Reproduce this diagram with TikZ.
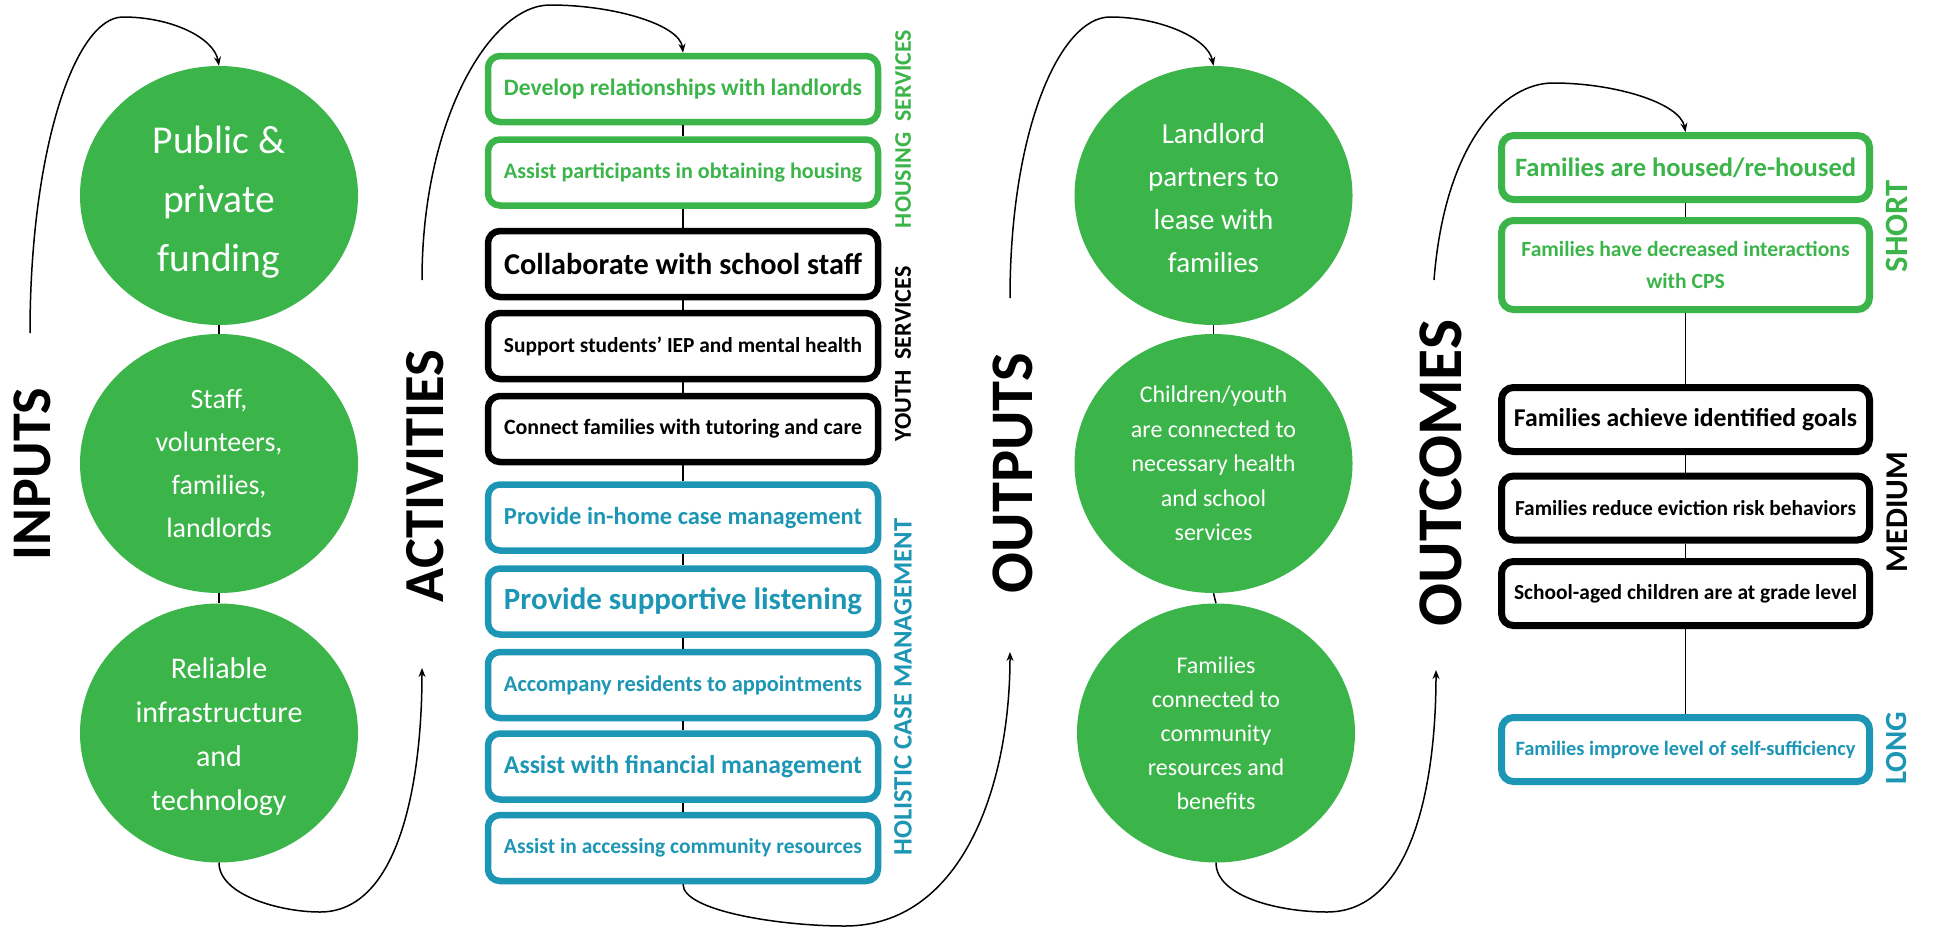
\documentclass[tikz,border=0pt]{standalone}
\usepackage{fontspec}
\usepackage{graphicx}
\setmainfont{Carlito}
\usetikzlibrary{shapes.geometric,arrows.meta}
\definecolor{lmgreen}{RGB}{59,181,74}
\definecolor{lmblue}{RGB}{28,150,180}
\newcommand{\fitto}[2]{\resizebox{#1}{!}{#2}}
\begin{document}
\begin{tikzpicture}[x=1pt,y=-1pt,
  bubble/.style={ellipse, fill=lmgreen, draw=none, minimum width=278pt, minimum height=259pt, inner sep=0pt, text=white, align=center},
  bubtext/.style={inner sep=0pt, text=white, align=center},
  lmbox/.style={draw, rounded corners=12pt, line width=6.5pt, inner sep=0pt, font=\bfseries, align=center},
  actbox/.style={lmbox, minimum width=390pt, minimum height=66pt},
  ocbox/.style={lmbox, line width=7pt, minimum width=368pt, minimum height=64pt},
  grn/.style={draw=lmgreen, text=lmgreen},
  blk/.style={draw=black, text=black},
  blu/.style={draw=lmblue, text=lmblue},
  conn/.style={line width=1.5pt},
  arr/.style={line width=1.5pt, -{Stealth[length=9pt,width=7pt]}},
  biglabel/.style={rotate=90, inner sep=0pt, font=\bfseries},
  sidelabel/.style={rotate=90, inner sep=0pt, font=\bfseries}]
\path[fill=white] (0,0) rectangle (1948,929);
\useasboundingbox (0,0) rectangle (1948,929);

% ---------- INPUTS ----------
\node[biglabel] (lIn) at (32.5,474) {\fitto{172pt}{INPUTS}};
\node[bubble] (in1) at (219,195.5) {};
\node[bubtext, font=\fontsize{39.5pt}{59pt}\selectfont] (in1t) at (219,202) {Public \&\\private\\funding};
\node[bubble, font=\fontsize{28pt}{43pt}\selectfont] (in2) at (219,463.5) {Staff,\\volunteers,\\families,\\landlords};
\node[bubble] (in3) at (219,733) {};
\node[bubtext, font=\fontsize{30pt}{44pt}\selectfont] (in3t) at (219,737) {Reliable\\infrastructure\\and\\technology};
\draw[conn] (in1.south) -- (in2.north);
\draw[conn] (in2.south) -- (in3.north);

% ---------- ACTIVITIES ----------
\node[biglabel] (lAct) at (425,476) {\fitto{252pt}{ACTIVITIES}};
\node[actbox,grn] (a1) at (683,89) {\fitto{358pt}{Develop relationships with landlords}};
\node[actbox,grn] (a2) at (683,172.5) {\fitto{358pt}{Assist participants in obtaining housing}};
\node[actbox,blk] (a3) at (683,264) {\fitto{358pt}{Collaborate with school staff}};
\node[actbox,blk] (a4) at (683,346) {\fitto{358pt}{Support students’ IEP and mental health}};
\node[actbox,blk] (a5) at (683,429) {\fitto{358pt}{Connect families with tutoring and care}};
\node[actbox,blu] (a6) at (683,517.5) {\fitto{358pt}{Provide in-home case management}};
\node[actbox,blu] (a7) at (683,601.5) {\fitto{358pt}{Provide supportive listening}};
\node[actbox,blu] (a8) at (683,685) {\fitto{358pt}{Accompany residents to appointments}};
\node[actbox,blu] (a9) at (683,766.5) {\fitto{358pt}{Assist with financial management}};
\node[actbox,blu] (a10) at (683,848) {\fitto{358pt}{Assist in accessing community resources}};
\foreach \i/\j in {a1/a2,a2/a3,a3/a4,a4/a5,a5/a6,a6/a7,a7/a8,a8/a9,a9/a10}
  \draw[conn] (\i.south) -- (\j.north);
\node[sidelabel, text=lmgreen] (sHous) at (903,129) {\fitto{198pt}{HOUSING\ \ SERVICES}};
\node[sidelabel] (sYouth) at (903,354) {\fitto{175pt}{YOUTH\ \ SERVICES}};
\node[sidelabel, text=lmblue] (sHol) at (903,687) {\fitto{337pt}{HOLISTIC CASE MANAGEMENT}};

% ---------- OUTPUTS ----------
\node[biglabel] (lOut) at (1013,473) {\fitto{240pt}{OUTPUTS}};
\node[bubble] (out1) at (1213.5,195.5) {};
\node[bubtext, font=\fontsize{29pt}{43pt}\selectfont] (out1t) at (1213.5,198) {Landlord\\partners to\\lease with\\families};
\node[bubble, font=\fontsize{24pt}{34.5pt}\selectfont] (out2) at (1213.5,463.5) {Children/youth\\are connected to\\necessary health\\and school\\services};
\node[bubble, font=\fontsize{24pt}{34pt}\selectfont] (out3) at (1216,733) {Families\\connected to\\community\\resources and\\benefits};
\draw[conn] (out1.south) -- (out2.north);
\draw[conn] (out2.south) -- (out3.north);

% ---------- OUTCOMES ----------
\node[biglabel] (lOc) at (1441,473) {\fitto{307pt}{OUTCOMES}};
\node[ocbox,grn] (o1) at (1685.5,167.5) {\fitto{341pt}{Families are housed/re-housed}};
\node[ocbox,grn, minimum height=89pt, font=\bfseries\fontsize{21.6pt}{32pt}\selectfont] (o2) at (1685.5,265) {Families have decreased interactions\\with CPS};
\node[ocbox,blk] (o3) at (1685.5,419.5) {\fitto{343pt}{Families achieve identified goals}};
\node[ocbox,blk] (o4) at (1685.5,508) {\fitto{341pt}{Families reduce eviction risk behaviors}};
\node[ocbox,blk] (o5) at (1685.5,593.5) {\fitto{343pt}{School-aged children are at grade level}};
\node[ocbox,blu] (o6) at (1685.5,749.5) {\fitto{340pt}{Families improve level of self-sufficiency}};
\foreach \i/\j in {o1/o2,o2/o3,o3/o4,o4/o5,o5/o6}
  \draw[conn] (\i.south) -- (\j.north);
\node[sidelabel, text=lmgreen] (sShort) at (1897,226) {\fitto{92pt}{SHORT}};
\node[sidelabel] (sMed) at (1897,512) {\fitto{120pt}{MEDIUM}};
\node[sidelabel, text=lmblue] (sLong) at (1897,748) {\fitto{73pt}{LONG}};

% ---------- curved arrows ----------
\coordinate (inS) at (30,333);
\coordinate (inP) at (123,17);
\draw[arr] (inS) .. controls (30,150) and (75,17) .. (inP) .. controls (172,17) and (214,38) .. (in1.north);

\coordinate (actE) at (422,668);
\coordinate (inB) at (320,912);
\draw[arr] (in3.south) .. controls (219,895) and (280,912) .. (inB) .. controls (400,912) and (422,780) .. (actE);

\coordinate (actS) at (422,280);
\coordinate (actP) at (550,5);
\draw[arr] (actS) .. controls (422,120) and (490,5) .. (actP) .. controls (615,5) and (680,25) .. (a1.north);

\coordinate (outE) at (1010,652);
\coordinate (actB) at (845,926);
\draw[arr] (a10.south) .. controls (683,911) and (780,926) .. (actB) .. controls (960,926) and (1010,790) .. (outE);

\coordinate (outS) at (1010,298);
\coordinate (outP) at (1110,17);
\draw[arr] (outS) .. controls (1010,130) and (1060,17) .. (outP) .. controls (1160,17) and (1208,38) .. (out1.north);

\coordinate (ocE) at (1436,670);
\coordinate (outB) at (1327,912);
\draw[arr] (out3.south) .. controls (1216,897) and (1280,912) .. (outB) .. controls (1410,912) and (1436,790) .. (ocE);

\coordinate (ocS) at (1434,280);
\coordinate (ocP) at (1553,83);
\draw[arr] (ocS) .. controls (1445,140) and (1505,83) .. (ocP) .. controls (1615,83) and (1680,103) .. (o1.north);
\end{tikzpicture}
\end{document}
